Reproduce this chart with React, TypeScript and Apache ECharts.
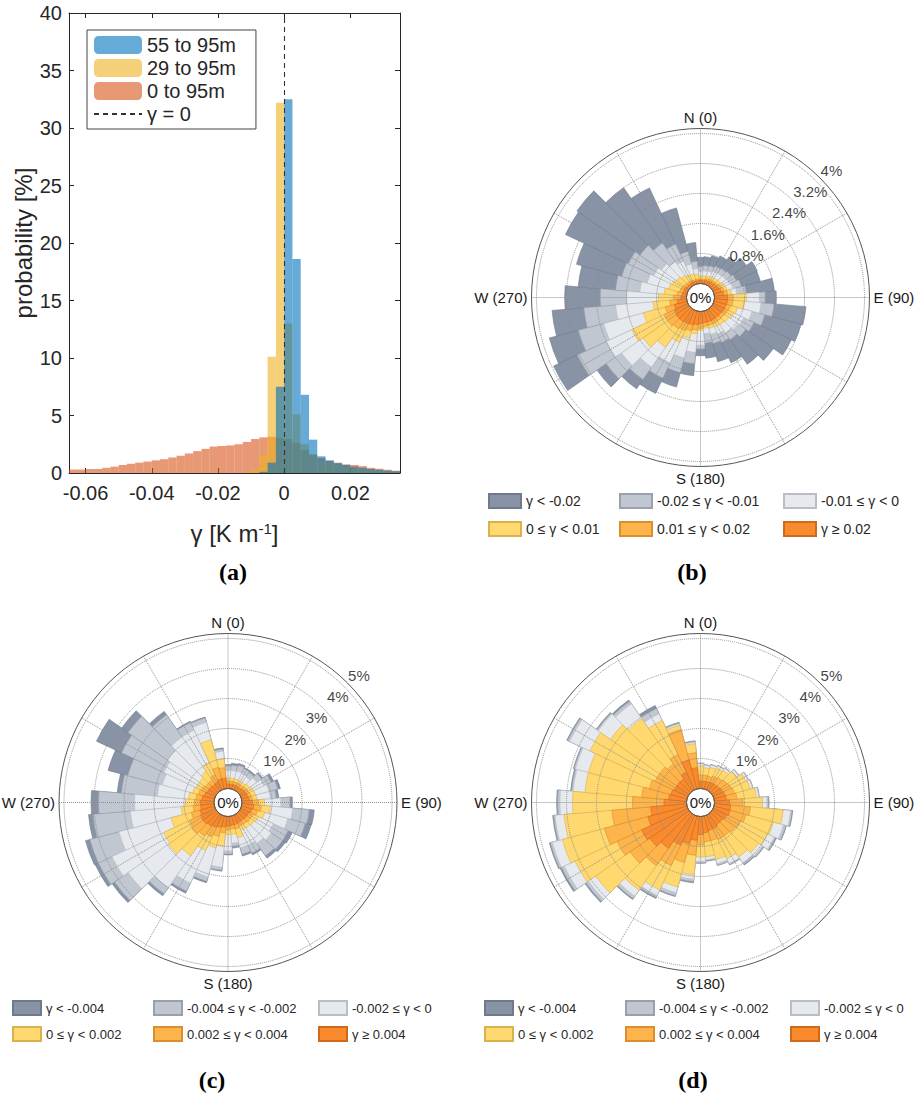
import React, { useEffect, useRef } from 'react';
import * as echarts from 'echarts';

const SANS = '"Liberation Sans", Arial, Helvetica, sans-serif';
const SERIF = '"Liberation Serif", "Times New Roman", serif';
const INK = '#262626';

// ---------------- (a) histogram ----------------
const BIN_START = -0.065;
const BIN_WIDTH = 0.0025;
const X_TICKS = [-0.06, -0.04, -0.02, 0, 0.02];
const H_55_95 = [0, 0, 0, 0, 0, 0, 0, 0, 0, 0, 0, 0, 0, 0, 0, 0, 0, 0, 0, 0, 0, 0, 0,
  0.1, 0.9, 7.5, 32.5, 18.6, 6.8, 2.9, 1.45, 1.1, 0.85, 0.7, 0.55, 0.45, 0.35, 0.28, 0.2, 0.15];
const H_29_95 = [0, 0, 0, 0, 0, 0, 0, 0, 0, 0, 0, 0, 0, 0, 0, 0, 0, 0, 0, 0, 0,
  0.05, 0.3, 1.6, 10.1, 32.2, 13.0, 5.1, 2.5, 1.6, 1.15, 0.9, 0.75, 0.6, 0.5, 0.4, 0.32, 0.25, 0.2, 0.15];
const H_0_95 = [0.3, 0.3, 0.35, 0.35, 0.45, 0.55, 0.7, 0.8, 0.9, 1.0,
  1.1, 1.2, 1.35, 1.5, 1.7, 1.9, 2.1, 2.3, 2.35, 2.4,
  2.5, 2.7, 2.95, 3.1, 3.15, 3.05, 2.95, 2.6, 2.0, 1.6,
  1.3, 1.05, 0.9, 0.75, 0.7, 0.6, 0.45, 0.37, 0.28, 0.2];
const BIN_CENTERS = H_0_95.map((_, i) => +(BIN_START + (i + 0.5) * BIN_WIDTH).toFixed(5));

// ---------------- wind roses ----------------
const DIRS = ['0', '10', '20', '30', '40', '50', '60', '70', '80', '90', '100', '110', '120', '130', '140', '150', '160', '170',
  '180', '190', '200', '210', '220', '230', '240', '250', '260', '270', '280', '290', '300', '310', '320', '330', '340', '350'];

// cumulative outer radius (%) reached by each class band, per direction
const B_DARK = [0.70, 0.72, 0.78, 0.85, 0.95, 1.12, 1.30, 1.28, 1.60, 1.65, 2.45, 2.40, 2.30, 2.00, 1.80, 1.55, 1.40, 1.25, 1.18, 1.72, 2.10, 2.45, 2.60, 3.00, 3.95, 3.80, 3.60, 3.25, 2.90, 3.05, 3.60, 3.65, 3.20, 2.85, 2.10, 1.10];
const B_MID = [0.45, 0.48, 0.50, 0.55, 0.58, 0.62, 0.68, 0.75, 0.85, 1.35, 1.60, 1.40, 1.20, 1.10, 1.00, 0.95, 0.90, 0.85, 1.00, 1.40, 1.70, 2.00, 2.30, 2.70, 3.25, 3.00, 2.75, 2.30, 1.90, 1.80, 1.75, 1.60, 1.40, 1.20, 0.90, 0.60];
const B_LIGHT = [0.32, 0.34, 0.36, 0.40, 0.42, 0.45, 0.48, 0.52, 0.60, 1.20, 1.25, 1.05, 0.90, 0.85, 0.78, 0.70, 0.65, 0.60, 0.90, 1.10, 1.30, 1.55, 1.90, 2.20, 2.40, 2.30, 1.90, 1.60, 1.25, 1.10, 1.00, 0.90, 0.80, 0.70, 0.55, 0.40];
const B_YEL = [0.20, 0.20, 0.22, 0.24, 0.26, 0.28, 0.32, 0.36, 0.45, 0.85, 0.80, 0.65, 0.60, 0.55, 0.52, 0.50, 0.48, 0.45, 0.50, 0.60, 0.75, 0.95, 1.25, 1.50, 1.65, 1.20, 0.90, 0.75, 0.60, 0.50, 0.45, 0.40, 0.35, 0.30, 0.28, 0.25];
const B_LOR = [0.12, 0.12, 0.15, 0.16, 0.18, 0.20, 0.24, 0.28, 0.35, 0.50, 0.50, 0.45, 0.42, 0.40, 0.40, 0.40, 0.40, 0.40, 0.45, 0.50, 0.55, 0.60, 0.65, 0.70, 0.70, 0.60, 0.45, 0.35, 0.25, 0.20, 0.18, 0.15, 0.14, 0.14, 0.12, 0.12];
const B_ORG = [0.08, 0.08, 0.10, 0.10, 0.12, 0.14, 0.16, 0.20, 0.25, 0.35, 0.35, 0.33, 0.32, 0.30, 0.30, 0.30, 0.30, 0.30, 0.32, 0.35, 0.38, 0.40, 0.42, 0.42, 0.40, 0.35, 0.25, 0.15, 0.12, 0.10, 0.10, 0.08, 0.08, 0.08, 0.08, 0.08];

const C_DARK = [0.80, 0.85, 0.88, 0.82, 0.82, 0.95, 1.21, 1.34, 1.23, 1.68, 2.42, 2.40, 1.90, 1.86, 1.80, 1.46, 1.38, 1.06, 1.28, 1.83, 2.30, 2.87, 3.33, 4.25, 4.42, 4.45, 4.20, 4.10, 3.24, 3.67, 4.37, 3.86, 3.24, 2.52, 2.48, 1.36];
const C_MID = [0.75, 0.78, 0.82, 0.78, 0.76, 0.90, 1.12, 1.25, 1.15, 1.60, 2.25, 2.20, 1.75, 1.75, 1.70, 1.40, 1.32, 1.02, 1.25, 1.80, 2.25, 2.80, 3.25, 4.15, 4.30, 4.30, 4.05, 3.85, 3.10, 3.00, 3.45, 3.60, 3.10, 2.48, 2.45, 1.32];
const C_LIGHT = [0.60, 0.60, 0.62, 0.60, 0.58, 0.70, 0.85, 0.95, 0.95, 1.30, 1.70, 1.60, 1.20, 1.30, 1.20, 1.10, 1.10, 0.90, 1.15, 1.70, 2.10, 2.50, 3.00, 3.60, 3.80, 3.30, 2.80, 2.65, 1.90, 1.80, 1.90, 2.00, 2.20, 2.20, 2.30, 1.25];
const C_YEL = [0.35, 0.35, 0.35, 0.35, 0.35, 0.40, 0.45, 0.48, 0.50, 0.75, 0.95, 0.80, 0.65, 0.60, 0.58, 0.55, 0.75, 0.60, 0.60, 1.00, 1.10, 1.30, 1.70, 1.95, 1.90, 1.50, 1.10, 0.95, 0.85, 0.75, 0.70, 0.70, 0.80, 1.00, 1.70, 1.00];
const C_LOR = [0.25, 0.25, 0.25, 0.25, 0.25, 0.28, 0.30, 0.32, 0.35, 0.55, 0.65, 0.55, 0.45, 0.45, 0.42, 0.40, 0.45, 0.42, 0.45, 0.55, 0.70, 0.80, 0.90, 1.00, 0.95, 0.80, 0.70, 0.65, 0.60, 0.55, 0.50, 0.45, 0.45, 0.55, 0.75, 0.70];
const C_ORG = [0.15, 0.15, 0.15, 0.15, 0.15, 0.18, 0.20, 0.22, 0.25, 0.35, 0.40, 0.35, 0.30, 0.30, 0.28, 0.28, 0.30, 0.30, 0.32, 0.35, 0.40, 0.45, 0.50, 0.55, 0.55, 0.50, 0.45, 0.45, 0.40, 0.35, 0.30, 0.30, 0.28, 0.30, 0.35, 0.35];

const D_DARK = [0.85, 0.80, 0.85, 0.90, 0.95, 1.10, 1.30, 1.35, 1.50, 1.82, 2.62, 2.50, 2.33, 2.12, 2.08, 1.83, 1.71, 1.50, 1.56, 2.22, 2.78, 3.06, 3.48, 4.24, 4.70, 4.75, 4.48, 4.33, 3.88, 3.92, 4.45, 3.78, 3.70, 3.10, 2.30, 1.60];
const D_MID = [0.84, 0.80, 0.85, 0.90, 0.95, 1.10, 1.30, 1.35, 1.50, 1.80, 2.60, 2.48, 2.30, 2.10, 2.05, 1.82, 1.70, 1.48, 1.55, 2.18, 2.75, 3.03, 3.45, 4.20, 4.65, 4.72, 4.45, 4.30, 3.85, 3.90, 4.42, 3.75, 3.65, 3.00, 2.28, 1.58];
const D_LIGHT = [0.82, 0.78, 0.83, 0.88, 0.93, 1.08, 1.28, 1.33, 1.48, 1.75, 2.55, 2.40, 2.25, 2.05, 2.00, 1.78, 1.65, 1.45, 1.50, 2.10, 2.65, 2.95, 3.35, 4.10, 4.55, 4.65, 4.40, 4.22, 3.80, 3.85, 4.35, 3.70, 3.55, 2.80, 2.25, 1.55];
const D_YEL = [0.75, 0.70, 0.75, 0.80, 0.85, 1.00, 1.20, 1.25, 1.40, 1.60, 2.30, 2.05, 2.00, 1.90, 1.75, 1.60, 1.50, 1.35, 1.35, 1.95, 2.45, 2.75, 3.10, 3.80, 4.15, 4.30, 4.10, 3.80, 3.40, 3.40, 3.60, 3.20, 2.95, 2.55, 2.20, 1.50];
const D_LOR = [0.45, 0.45, 0.45, 0.50, 0.55, 0.60, 0.65, 0.70, 0.75, 0.95, 1.20, 1.10, 1.00, 0.95, 0.90, 0.90, 0.85, 0.85, 0.95, 1.30, 1.60, 1.85, 2.10, 2.40, 2.60, 2.85, 2.50, 1.80, 1.50, 1.30, 1.20, 1.20, 1.10, 1.30, 2.05, 1.20];
const D_ORG = [0.25, 0.25, 0.25, 0.28, 0.30, 0.32, 0.35, 0.38, 0.40, 0.50, 0.55, 0.55, 0.50, 0.45, 0.45, 0.50, 0.50, 0.55, 0.60, 0.80, 0.95, 1.10, 1.40, 1.60, 1.70, 1.35, 1.20, 0.75, 0.60, 0.55, 0.50, 0.50, 0.50, 0.65, 1.00, 0.70];

const B_CLASSES = ['γ < -0.02', '-0.02 ≤ γ < -0.01', '-0.01 ≤ γ < 0', '0 ≤ γ < 0.01', '0.01 ≤ γ < 0.02', 'γ ≥ 0.02'];
const CD_CLASSES = ['γ < -0.004', '-0.004 ≤ γ < -0.002', '-0.002 ≤ γ < 0', '0 ≤ γ < 0.002', '0.002 ≤ γ < 0.004', 'γ ≥ 0.004'];
const CLASS_COLORS = ['#8893a6', '#c1c7d0', '#e6e9ee', '#ffd970', '#fdb44b', '#fa8a2e'];
const CLASS_BORDERS = ['#6f7a8c', '#9aa1ab', '#b9bdc4', '#d9b24e', '#d88f2c', '#cf6a1c'];

const B_TICKS = [0.8, 1.6, 2.4, 3.2, 4];
const CD_TICKS = [1, 2, 3, 4, 5];
const COMPASS: Record<number, string> = { 0: 'N (0)', 90: 'E (90)', 180: 'S (180)', 270: 'W (270)' };

// layout
const HOLE = 14;
const R_DATA = 164;
const R_FRAME = 169;
const RING_LABEL_ANGLE = 45;

function rose(p: number, cx: number, cy: number, max: number, step: number, ticks: number[],
  names: string[], data: number[][], leg: { xs: number[]; ys: number[]; w: number; h: number; fs: number }) {
  const polar = [
    { center: [cx, cy], radius: [HOLE, R_DATA] },
    { center: [cx, cy], radius: [HOLE, R_FRAME] },
    { center: [cx, cy], radius: [HOLE, R_DATA] },
  ];
  const dotted = { type: 'dotted', color: '#8f8f8f', width: 1 };
  const angleAxis = [
    { polarIndex: 3 * p, type: 'category', data: DIRS, startAngle: 95, clockwise: true, boundaryGap: true,
      axisLine: { show: false }, axisTick: { show: false }, axisLabel: { show: false }, splitLine: { show: false } },
    { polarIndex: 3 * p + 1, type: 'value', min: 0, max: 360, interval: 30, startAngle: 90, clockwise: true, z: 4,
      axisLine: { show: true, lineStyle: { color: '#555', width: 1 } }, axisTick: { show: false },
      splitLine: { show: true, lineStyle: dotted },
      axisLabel: { margin: 4, fontSize: 15, fontFamily: SANS, color: '#1a1a1a', formatter: (v: number) => COMPASS[v] ?? '' } },
    { polarIndex: 3 * p + 2, type: 'value', min: 0, max: 360, startAngle: 90, clockwise: true, show: false },
  ];
  const radiusAxis = [
    { polarIndex: 3 * p, type: 'value', min: 0, max, interval: step, z: 4,
      axisLine: { show: false }, axisTick: { show: false }, axisLabel: { show: false },
      splitLine: { show: true, lineStyle: dotted } },
    { polarIndex: 3 * p + 1, type: 'value', min: 0, max, show: false },
    { polarIndex: 3 * p + 2, type: 'value', min: 0, max, show: false },
  ];
  const series: any[] = names.map((name, k) => ({
    type: 'bar', name, coordinateSystem: 'polar', polarIndex: 3 * p, data: data[k],
    barGap: '-100%', barCategoryGap: '0%', silent: true,
    itemStyle: { color: CLASS_COLORS[k], borderColor: CLASS_BORDERS[k], borderWidth: 0.6 },
  }));
  series.push({
    type: 'scatter', coordinateSystem: 'polar', polarIndex: 3 * p + 2, symbolSize: 1, silent: true, z: 10,
    itemStyle: { color: 'rgba(0,0,0,0)' },
    data: ticks.map((v) => [v, RING_LABEL_ANGLE]),
    label: { show: true, position: 'top', distance: 0, offset: [15, -3], fontSize: 15, fontFamily: SANS, color: '#111',
      textBorderWidth: 0, formatter: (prm: any) => `${prm.value[0]}%` },
  });
  const legend = names.map((name, k) => ({
    data: [{ name, icon: 'rect' }], selectedMode: false, padding: 0, itemGap: 0,
    left: leg.xs[k % 3], top: leg.ys[Math.floor(k / 3)], itemWidth: leg.w, itemHeight: leg.h,
    textStyle: { fontSize: leg.fs, fontFamily: SANS, color: INK },
  }));
  return { polar, angleAxis, radiusAxis, series, legend };
}

export default function App() {
  const ref = useRef<HTMLDivElement>(null);
  useEffect(() => {
    if (!ref.current) return;
    const chart = echarts.init(ref.current, undefined, { renderer: 'svg' });

    const rb = rose(0, 700.5, 297.5, 4, 0.8, B_TICKS, B_CLASSES, [B_DARK, B_MID, B_LIGHT, B_YEL, B_LOR, B_ORG],
      { xs: [488, 619, 783], ys: [493, 521], w: 32, h: 14, fs: 14 });
    const rc = rose(1, 228, 802.5, 5, 1, CD_TICKS, CD_CLASSES, [C_DARK, C_MID, C_LIGHT, C_YEL, C_LOR, C_ORG],
      { xs: [12, 153, 318], ys: [1000, 1026], w: 28, h: 14, fs: 13 });
    const rd = rose(2, 700.5, 802.5, 5, 1, CD_TICKS, CD_CLASSES, [D_DARK, D_MID, D_LIGHT, D_YEL, D_LOR, D_ORG],
      { xs: [484, 625, 790], ys: [1000, 1026], w: 28, h: 14, fs: 13 });

    const axisLine = { show: true, onZero: false, lineStyle: { color: INK, width: 1 } };
    const tick = { show: true, inside: true, length: 5, lineStyle: { color: INK } };
    const dash = [5, 4];
    const histBar = (name: string, values: number[], color: string) => ({
      type: 'bar', name, xAxisIndex: 0, yAxisIndex: 0, silent: true,
      data: values.map((v, i) => [BIN_CENTERS[i], v]),
      barGap: '-100%', barCategoryGap: '0%', itemStyle: { color },
    });

    const option: any = {
      animation: false,
      backgroundColor: '#fff',
      textStyle: { fontFamily: SANS },
      grid: [{ left: 69, top: 13, width: 331, height: 460 }],
      xAxis: [
        { type: 'value', gridIndex: 0, position: 'bottom', min: -0.065, max: 0.035, axisLine, splitLine: { show: false },
          axisTick: { ...tick, customValues: X_TICKS },
          axisLabel: { customValues: X_TICKS, fontSize: 20, color: INK, margin: 10, fontFamily: SANS,
            formatter: (v: number) => (v === 0 ? '0' : String(v)) },
          name: 'γ [K m{sup|-1}]', nameLocation: 'middle', nameGap: 48,
          nameTextStyle: { fontSize: 24, color: INK, fontFamily: SANS,
            rich: { sup: { fontSize: 15, verticalAlign: 'top', color: INK, fontFamily: SANS, padding: [0, 0, 8, 0] } } } },
        { type: 'value', gridIndex: 0, position: 'top', min: -0.065, max: 0.035, axisLine, splitLine: { show: false },
          axisTick: { ...tick, customValues: X_TICKS }, axisLabel: { show: false } },
      ],
      yAxis: [
        { type: 'value', gridIndex: 0, position: 'left', min: 0, max: 40, interval: 5, axisLine, axisTick: tick,
          splitLine: { show: false }, axisLabel: { fontSize: 20, color: INK, margin: 7, fontFamily: SANS },
          name: 'probability [%]', nameLocation: 'middle', nameGap: 34, nameRotate: 90,
          nameTextStyle: { fontSize: 24, color: INK, fontFamily: SANS } },
        { type: 'value', gridIndex: 0, position: 'right', min: 0, max: 40, interval: 5, axisLine, axisTick: tick,
          splitLine: { show: false }, axisLabel: { show: false } },
      ],
      polar: [...rb.polar, ...rc.polar, ...rd.polar],
      angleAxis: [...rb.angleAxis, ...rc.angleAxis, ...rd.angleAxis],
      radiusAxis: [...rb.radiusAxis, ...rc.radiusAxis, ...rd.radiusAxis],
      legend: [
        { data: ['55 to 95m', '29 to 95m', '0 to 95m', { name: 'γ = 0', itemStyle: { opacity: 0 } }],
          orient: 'vertical', left: 87, top: 30,
          itemWidth: 48, itemHeight: 18, itemGap: 3, padding: [5, 20, 5, 6], borderColor: '#444', borderWidth: 1,
          selectedMode: false, textStyle: { fontSize: 20, color: INK, fontFamily: SANS } },
        ...rb.legend, ...rc.legend, ...rd.legend,
      ],
      series: [
        histBar('0 to 95m', H_0_95, 'rgba(217,83,25,0.6)'),
        histBar('29 to 95m', H_29_95, 'rgba(237,177,32,0.6)'),
        histBar('55 to 95m', H_55_95, 'rgba(0,114,189,0.6)'),
        { type: 'line', name: 'γ = 0', xAxisIndex: 0, yAxisIndex: 0, data: [], symbol: 'none', silent: true,
          itemStyle: { color: '#333' }, lineStyle: { color: '#333', type: dash, width: 1.1 },
          markLine: { silent: true, symbol: ['none', 'none'], label: { show: false },
            lineStyle: { color: '#333', type: dash, width: 1.1 }, data: [{ xAxis: 0 }] } },
        ...rb.series, ...rc.series, ...rd.series,
      ],
      graphic: [
        ...[{ t: '(a)', x: 233, y: 572 }, { t: '(b)', x: 692, y: 572 }, { t: '(c)', x: 212, y: 1080 }, { t: '(d)', x: 693, y: 1080 }]
          .map((l) => ({ type: 'text', x: l.x, y: l.y, z: 100,
            style: { text: l.t, font: `bold 24px ${SERIF}`, fill: '#000', align: 'center', verticalAlign: 'middle' } })),
        ...[{ x: 700.5, y: 297.5 }, { x: 228, y: 802.5 }, { x: 700.5, y: 802.5 }]
          .map((c) => ({ type: 'text', x: c.x, y: c.y, z: 100,
            style: { text: '0%', font: `15px ${SANS}`, fill: '#1a1a1a', align: 'center', verticalAlign: 'middle' } })),
      ],
    };
    chart.setOption(option);
    return () => chart.dispose();
  }, []);
  return <div ref={ref} style={{ position: 'absolute', left: 0, top: 0, width: 914, height: 1096, background: '#fff' }} />;
}
